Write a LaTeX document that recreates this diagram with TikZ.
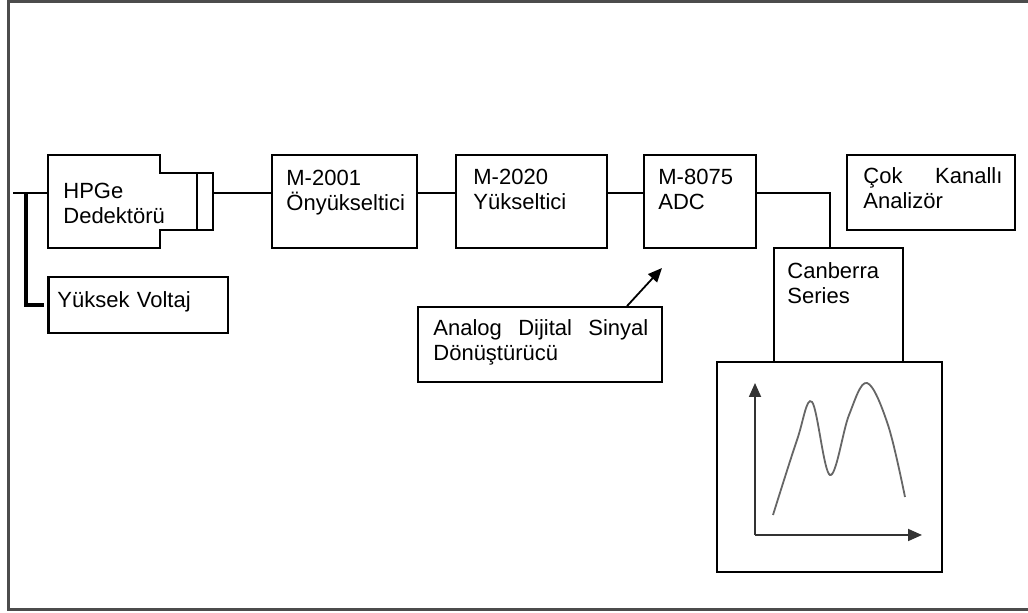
\documentclass[tikz,border=0pt]{standalone}
\usepackage{fontspec}
\setmainfont{Liberation Sans}
\usetikzlibrary{arrows.meta}
\tikzset{
  box/.style={draw, line width=0.9pt, minimum width=#1, inner sep=0pt},
  txt/.style={anchor=base west, inner sep=0pt, align=left, text width=130pt,
    font=\fontsize{11pt}{12.5pt}\selectfont},
  wire/.style={line width=0.9pt},
  fatwire/.style={line width=1.6pt},
}
\begin{document}
\begin{tikzpicture}[x=0.5pt,y=-0.5pt]
\useasboundingbox (0,0) rectangle (1028,613);
% frame
\draw[black!70, line width=1.4pt] (1028,1.5) -- (8.5,1.5) -- (8.5,609.5) -- (1028,609.5);

% detector
\draw[wire] (160,173) -- (160,155) -- (48,155) -- (48,248) -- (160,248)
  -- (160,230) -- (213,230) -- (213,173) -- cycle;
\draw[wire] (197,173) -- (197,230);
\node[inner sep=0pt, minimum width=82.5pt, minimum height=46.5pt] (det) at (130.5,201.5) {};
\node[txt] (dett) at (63,199) {HPGe\\Dedektörü};

% boxes
\node[box=89.5pt, minimum height=28pt] (hv) at (138.5,305) {};
\node[box=72.5pt, minimum height=46.5pt] (pre) at (344.5,201.5) {};
\node[box=75.5pt, minimum height=46.5pt] (amp) at (531.5,201.5) {};
\node[box=56pt, minimum height=46.5pt] (adc) at (700,201.5) {};
\node[box=84pt, minimum height=37.5pt] (mca) at (931,192.5) {};
\node[box=122pt, minimum height=37.5pt] (conv) at (540,344.5) {};
\node[box=64.5pt, minimum height=57pt] (can) at (838.5,305) {};
\node[box=112.5pt, minimum height=105pt] (plot) at (829.5,467) {};

\node[txt] (hvt) at (57,308) {Yüksek Voltaj};
\node[txt] (pret) at (286,186) {M-2001\\Önyükseltici};
\node[txt] (ampt) at (473,185) {M-2020\\Yükseltici};
\node[txt] (adct) at (658,185) {M-8075\\ADC};
\node[txt] (mcat) at (863,184) {\makebox[69.5pt][s]{Çok\hfill Kanallı}\\Analizör};
\node[txt] (convt) at (433,336) {\makebox[107.5pt][s]{Analog\hfill Dijital\hfill Sinyal}\\Dönüştürücü};
\node[txt] (cant) at (787,279) {Canberra\\Series};

% connectors
\coordinate (line) at (0,193);
\coordinate (hvin) at (26,193);
\coordinate (bend) at (830,193);
\coordinate (tip) at (662,268);
\draw[wire] (13,193) -- (det.west |- line);
\draw[wire] (det.east |- line) -- (pre.west |- line);
\draw[wire] (pre.east |- line) -- (amp.west |- line);
\draw[wire] (amp.east |- line) -- (adc.west |- line);
\draw[wire] (adc.east |- line) -- (bend) -- (bend |- can.north);
\draw[fatwire] (hvin) -- (hvin |- hv.west) -- ([xshift=-2pt]hv.west);
\draw[fatwire] (hv.north west) -- (hv.south west);
\draw[wire, -{Triangle[length=7pt, width=6pt]}] (conv.north -| 627,0) -- (tip);

% spectrum
\coordinate (org) at (755,535);
\draw[wire, black!80, -{Triangle[length=7pt, width=6pt]}] (org) -- (755,383);
\draw[wire, black!80, -{Triangle[length=7pt, width=6pt]}] (org) -- (922,535);
\draw[black!60, line width=0.9pt] plot[smooth, tension=0.6] coordinates
  {(773,515) (797,440) (812,402) (830,475) (849,415) (867,383) (888,425) (905,497)};
\end{tikzpicture}
\end{document}
